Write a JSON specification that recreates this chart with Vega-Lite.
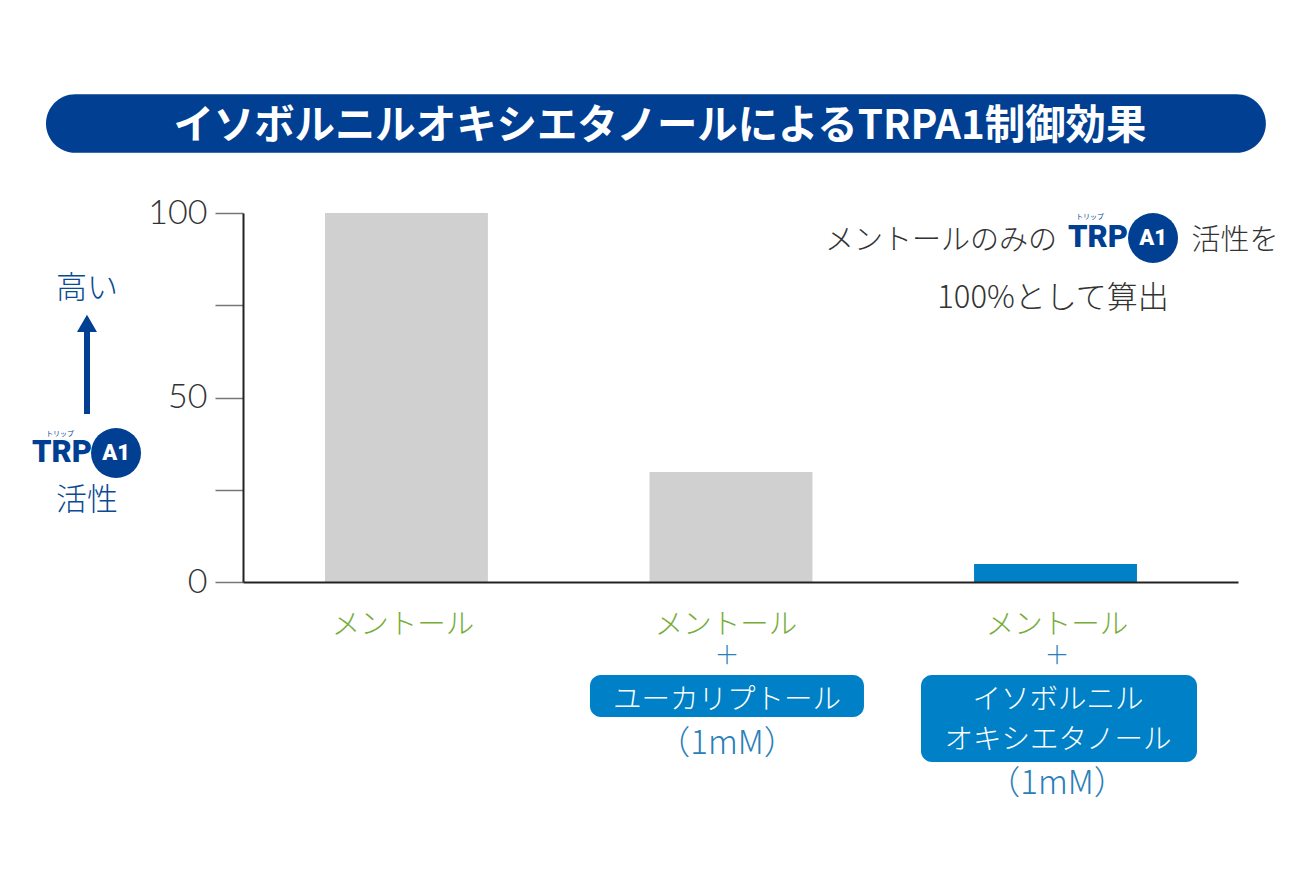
{
  "$schema": "https://vega.github.io/schema/vega-lite/v6.json",
  "autosize": {"type": "none"},
  "padding": {"left": 243, "top": 213, "right": 74, "bottom": 288},
  "width": 995,
  "height": 369,
  "background": "white",
  "config": {"view": {"stroke": null}, "text": {"font": "Noto Sans CJK JP", "baseline": "middle", "align": "center"}},
  "datasets": {
    "bars": [
      {"treatment": "メントール", "activity": 100},
      {"treatment": "メントール+ユーカリプトール", "activity": 29.8},
      {"treatment": "メントール+イソボルニルオキシエタノール", "activity": 4.9}
    ],
    "titlePill": [{"x": -19.8, "x2": 102.8, "y": 132.2, "y2": 116.3}],
    "labelPills": [
      {"x": 34.87, "x2": 62.41, "y": -25.2, "y2": -36.59},
      {"x": 68.14, "x2": 95.88, "y": -25.2, "y2": -48.78}
    ],
    "title": [{"x": 41.9, "y": 123.2, "text": "イソボルニルオキシエタノールによるTRPA1制御効果"}],
    "navyText": [
      {"x": -15.68, "y": 79.67, "text": "高い"},
      {"x": -15.68, "y": 22.22, "text": "活性"}
    ],
    "note": [
      {"x": 70.15, "y": 92.95, "text": "メントールのみの"},
      {"x": 99.7, "y": 92.95, "text": "活性を"}
    ],
    "note2": [{"x": 81.41, "y": 77.24, "text": "100%として算出"}],
    "green": [
      {"x": 16.08, "y": -10.84, "text": "メントール"},
      {"x": 48.54, "y": -10.84, "text": "メントール"},
      {"x": 81.81, "y": -10.84, "text": "メントール"}
    ],
    "plus": [
      {"x": 48.64, "y": -19.24, "text": "＋"},
      {"x": 81.81, "y": -19.24, "text": "＋"}
    ],
    "dose": [
      {"x": 48.64, "y": -43.09, "text": "（1mM）"},
      {"x": 81.81, "y": -53.93, "text": "（1mM）"}
    ],
    "pillText": [
      {"x": 48.64, "y": -31.17, "text": "ユーカリプトール"},
      {"x": 81.91, "y": -31.17, "text": "イソボルニル"},
      {"x": 81.91, "y": -42.01, "text": "オキシエタノール"}
    ],
    "trp": [
      {"x": -18.19, "y": 34.96, "text": "TRP"},
      {"x": 85.93, "y": 93.22, "text": "TRP"}
    ],
    "ruby": [
      {"x": -18.39, "y": 40.1, "text": "トリップ"},
      {"x": 85.13, "y": 98.9, "text": "トリップ"}
    ],
    "a1": [
      {"x": -12.76, "y": 34.96, "text": "A1"},
      {"x": 91.46, "y": 93.22, "text": "A1"}
    ],
    "arrow": [{"x": -15.68, "y": 45.53, "y2": 68.29}],
    "arrowHead": [{"x": -15.68, "y": 70.1}]
  },
  "layer": [
    {
      "data": {"name": "bars"},
      "mark": {"type": "bar"},
      "encoding": {
        "x": {
          "field": "treatment",
          "type": "nominal",
          "sort": null,
          "title": null,
          "scale": {"type": "band", "paddingInner": 0.498, "paddingOuter": 0.282, "align": 0.448},
          "axis": {"labels": false, "ticks": false, "domainColor": "#222222", "domainWidth": 2, "zindex": 1}
        },
        "y": {
          "field": "activity",
          "type": "quantitative",
          "title": null,
          "scale": {"domain": [0, 100], "nice": false},
          "axis": {
            "values": [0, 25, 50, 75, 100],
            "grid": false,
            "labelExpr": "datum.value % 50 === 0 ? datum.label : ''",
            "labelFont": "Lato",
            "labelFontWeight": 300,
            "labelFontSize": 34,
            "labelColor": "#333333",
            "labelPadding": 8,
            "tickSize": 28,
            "tickColor": "#777777",
            "tickWidth": 1.5,
            "domainColor": "#222222",
            "domainWidth": 2,
            "zindex": 1
          }
        },
        "color": {
          "field": "treatment",
          "type": "nominal",
          "legend": null,
          "scale": {
            "domain": ["メントール", "メントール+ユーカリプトール", "メントール+イソボルニルオキシエタノール"],
            "range": ["#d0d0d0", "#d0d0d0", "#0080c6"]
          }
        }
      }
    },
    {
      "encoding": {
        "x": {"field": "x", "type": "quantitative", "axis": null, "scale": {"domain": [0, 100], "nice": false, "zero": false}},
        "y": {"field": "y", "type": "quantitative", "axis": null, "scale": {"domain": [0, 100], "nice": false}}
      },
      "layer": [
        {
          "data": {"name": "titlePill"},
          "mark": {"type": "rect", "color": "#003f92", "cornerRadius": 29.5},
          "encoding": {"x2": {"field": "x2"}, "y2": {"field": "y2"}}
        },
        {
          "data": {"name": "labelPills"},
          "mark": {"type": "rect", "color": "#0080c6", "cornerRadius": 11},
          "encoding": {"x2": {"field": "x2"}, "y2": {"field": "y2"}}
        },
        {
          "data": {"name": "arrow"},
          "mark": {"type": "rule", "color": "#003f92", "strokeWidth": 6},
          "encoding": {"y2": {"field": "y2"}}
        },
        {
          "data": {"name": "arrowHead"},
          "mark": {"type": "point", "shape": "triangle-up", "filled": true, "color": "#003f92", "opacity": 1, "size": 400},
          "encoding": {}
        },
        {
          "data": {"name": "a1"},
          "mark": {"type": "point", "shape": "circle", "filled": true, "color": "#003f92", "opacity": 1, "size": 2500},
          "encoding": {}
        },
        {
          "data": {"name": "title"},
          "mark": {"type": "text", "color": "white", "fontSize": 40.4, "fontWeight": 700},
          "encoding": {"text": {"field": "text"}}
        },
        {
          "data": {"name": "navyText"},
          "mark": {"type": "text", "color": "#0b4a94", "fontSize": 31, "fontWeight": 300, "dy": 1},
          "encoding": {"text": {"field": "text"}}
        },
        {
          "data": {"name": "note"},
          "mark": {"type": "text", "color": "#333333", "fontSize": 29, "fontWeight": 300, "dy": 2},
          "encoding": {"text": {"field": "text"}}
        },
        {
          "data": {"name": "note2"},
          "mark": {"type": "text", "color": "#333333", "fontSize": 31, "fontWeight": 300, "dy": 2},
          "encoding": {"text": {"field": "text"}}
        },
        {
          "data": {"name": "green"},
          "mark": {"type": "text", "color": "#76ad3a", "fontSize": 28.5, "fontWeight": 300, "dy": 3},
          "encoding": {"text": {"field": "text"}}
        },
        {
          "data": {"name": "plus"},
          "mark": {"type": "text", "color": "#2a80b9", "fontSize": 25, "fontWeight": 300, "dy": 3},
          "encoding": {"text": {"field": "text"}}
        },
        {
          "data": {"name": "dose"},
          "mark": {"type": "text", "color": "#2a80b9", "fontSize": 33, "fontWeight": 300, "dy": 3},
          "encoding": {"text": {"field": "text"}}
        },
        {
          "data": {"name": "pillText"},
          "mark": {"type": "text", "color": "white", "fontSize": 28.5, "fontWeight": 300, "dy": 3},
          "encoding": {"text": {"field": "text"}}
        },
        {
          "data": {"name": "trp"},
          "mark": {"type": "text", "color": "#003f92", "font": "Roboto", "fontSize": 31, "fontWeight": 900},
          "encoding": {"text": {"field": "text"}}
        },
        {
          "data": {"name": "ruby"},
          "mark": {"type": "text", "color": "#003f92", "fontSize": 7},
          "encoding": {"text": {"field": "text"}}
        },
        {
          "data": {"name": "a1"},
          "mark": {"type": "text", "color": "white", "font": "Roboto", "fontSize": 22, "fontWeight": 900},
          "encoding": {"text": {"field": "text"}}
        }
      ]
    }
  ],
  "resolve": {"scale": {"x": "independent", "y": "independent", "color": "independent"}, "axis": {"x": "independent", "y": "independent"}}
}
